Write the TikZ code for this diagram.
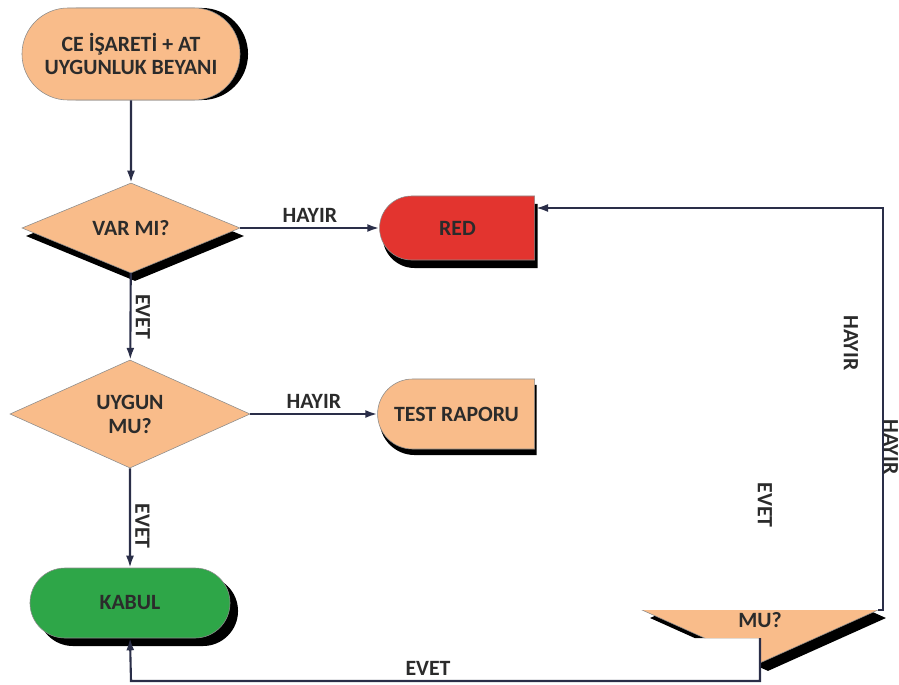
\documentclass[tikz,border=0pt]{standalone}
\usepackage{fontspec}
\setmainfont{Carlito}
\usetikzlibrary{positioning,arrows.meta,shapes.geometric,shapes.misc,shadows}
\definecolor{peach}{HTML}{F9BC8A}
\definecolor{redbox}{HTML}{E3342F}
\definecolor{greenbox}{HTML}{2EA648}
\definecolor{edge}{HTML}{8C8C8C}
\definecolor{wire}{HTML}{2A2E48}
\definecolor{txt}{HTML}{2B2B2B}

\begin{document}
\begin{tikzpicture}[x=0.025cm, y=-0.025cm,
  every node/.style={font=\fontsize{15.5}{17}\selectfont\bfseries, text=txt},
  term/.style={rounded rectangle, draw=edge, thin, fill=peach, inner sep=0pt, align=center},
  dec/.style={diamond, draw=edge, thin, fill=peach, inner sep=0pt, align=center},
  blk/.style={drop shadow={shadow xshift=#1, shadow yshift=-0.2cm, fill=black, opacity=1}},
  lbl/.style={inner sep=3pt},
  arr/.style={-{Latex[length=0.3cm,width=0.2cm]}, line width=1.5pt, draw=wire},
  node distance={8.16cm}]
    \useasboundingbox (0,0) rectangle (899,684);

    % left column
    \node[term, minimum width=5.45cm, minimum height=2.3cm,
          drop shadow={shadow xshift=0.2cm, shadow yshift=0cm, fill=black, opacity=1}] (start) at (131,54) {CE İŞARETİ + AT\\UYGUNLUK BEYANI};
    \node[dec, blk=0.1cm, shape aspect=2.4, minimum width=5.45cm, minimum height=2.25cm] (varmi) at (131,228) {VAR MI?};
    \node[dec, shape aspect=2.2, minimum width=6cm, minimum height=2.7cm] (uygun) at (130,414) {UYGUN\\MU?};
    \node[term, blk=0.2cm, fill=greenbox, minimum width=5cm, minimum height=1.75cm] (kabul) at (130,603) {KABUL};

    % right of the decisions
    \node[term, blk=0.075cm, fill=redbox, rounded rectangle right arc=none, minimum width=3.875cm, minimum height=1.6cm] (red) [right of=varmi] {RED};
    \node[term, rounded rectangle right arc=none, minimum width=3.925cm, minimum height=1.75cm,
          drop shadow={shadow xshift=0.05cm, shadow yshift=-0.15cm, fill=black, opacity=1}] (test) [right of=uygun] {TEST RAPORU};

    % half hidden decision
    \begin{scope}
      \clip (600,610) -- (899,610) -- (899,684) -- (760,684) -- (760,638) -- (600,638) -- cycle;
      \node[dec, blk=0.2cm, shape aspect=2.2, minimum width=5.9cm, minimum height=2.65cm,
            text height=0.85cm, text depth=0pt] (mu) at (760,610) {MU?};
    \end{scope}

    \coordinate (rtop) at (883,208);
    \coordinate (redin) at (536,208);
    \coordinate (mubot) at (760,638);
    \coordinate (corner) at (131,681);

    \draw[arr] (start) -- (varmi);
    \draw[arr] (varmi) -- node[lbl, above] {HAYIR} (red);
    \draw[arr] (varmi) -- node[lbl, rotate=-90, anchor=south] {EVET} (uygun);
    \draw[arr] (uygun) -- node[lbl, above] {HAYIR} (test);
    \draw[arr] (uygun) -- node[lbl, rotate=-90, anchor=south, pos=0.58] {EVET} (kabul);
    \draw[arr] (mu.east) -| (rtop) -- (redin);
    \draw[arr] (mubot) |- (corner) -- (kabul.south);

    % loose labels
    \node[lbl, rotate=-90] (h1) at (851,343) {HAYIR};
    \node[lbl, rotate=-90] (h2) at (891,447) {HAYIR};
    \node[lbl, rotate=-90] (e1) at (765,505) {EVET};
    \node[lbl] (e2) at (428,668) {EVET};
\end{tikzpicture}
\end{document}
